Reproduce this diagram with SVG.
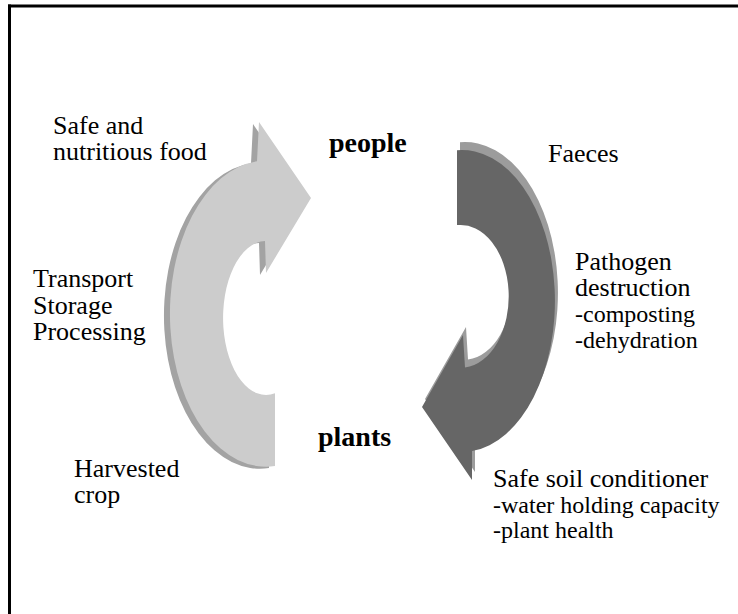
<svg xmlns="http://www.w3.org/2000/svg" width="738" height="614" viewBox="0 0 738 614">
<style>
.m{font-family:'Liberation Serif',serif;font-size:26px;fill:#000}
.s{font-family:'Liberation Serif',serif;font-size:24px;fill:#000}
.b{font-family:'Liberation Serif',serif;font-size:28px;font-weight:bold;fill:#000}
</style>
<defs>
<path id="lightArrow" d="M259,122 L311,198 L266,273 L265,241 A43 77 0 1 0 275,393.3 L275,466 A96 153 0 1 1 257,161.3 Z"/>
<path id="darkArrow" d="M457,150.2 A93 151 0 0 1 472,451.1 L472,480 L422,407 L463,335 L465,367.6 A48 71.5 0 0 0 457,225.1 Z"/>
</defs>
<rect width="738" height="614" fill="#fff"/>
<rect x="8" y="4.5" width="730" height="3" fill="#000"/>
<rect x="8" y="4.5" width="3" height="609.5" fill="#000"/>
<g id="connectors">
<g id="arrow-plants-to-people">
<use href="#lightArrow" transform="translate(-6,2)" fill="#a3a3a3"/>
<use href="#lightArrow" fill="#cccccc"/>
</g>
<g id="arrow-people-to-plants">
<use href="#darkArrow" transform="translate(3,-8)" fill="#9c9c9c"/>
<use href="#darkArrow" fill="#666666"/>
</g>
</g>
<g font-family="Liberation Serif">
<g id="people"><text class="b" x="329" y="152">people</text></g>
<g id="plants"><text class="b" x="318" y="446">plants</text></g>
<g id="label-food"><text class="m" x="53" y="134">Safe and</text><text class="m" x="53" y="160">nutritious food</text></g>
<g id="label-transport"><text class="m" x="33" y="287">Transport</text><text class="m" x="33" y="314">Storage</text><text class="m" x="33" y="340">Processing</text></g>
<g id="label-harvested"><text class="m" x="74" y="477">Harvested</text><text class="m" x="74" y="503">crop</text></g>
<g id="label-faeces"><text class="m" x="548" y="162">Faeces</text></g>
<g id="label-pathogen"><text class="m" x="575" y="270">Pathogen</text><text class="m" x="575" y="296">destruction</text><text class="s" x="575" y="322">-composting</text><text class="s" x="575" y="348">-dehydration</text></g>
<g id="label-soil"><text class="m" x="493" y="487">Safe soil conditioner</text><text class="s" x="493" y="513">-water holding capacity</text><text class="s" x="493" y="538">-plant health</text></g>
</g>
</svg>
